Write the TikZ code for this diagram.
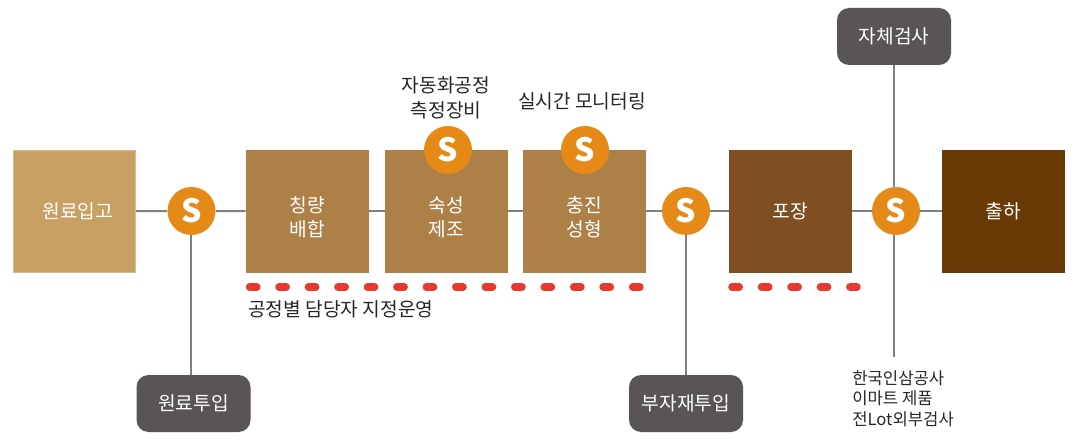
\documentclass[tikz,border=0pt]{standalone}
\usepackage{fontspec}
\setmainfont{Noto Sans CJK KR}
\definecolor{raw}{HTML}{C9A063}
\definecolor{rawedge}{HTML}{D3BC93}
\definecolor{mid}{HTML}{AD8047}
\definecolor{pack}{HTML}{7F4F22}
\definecolor{ship}{HTML}{693A06}
\definecolor{grayed}{HTML}{595556}
\definecolor{badge}{HTML}{E58A17}
\definecolor{reddash}{HTML}{E63A2E}
\definecolor{wire}{HTML}{808080}
\newcommand{\duas}[2]{\rule{0pt}{20pt}#1\\#2}
\tikzset{
  etapa/.style={minimum size=92.25pt, inner sep=0pt, align=center, text=white,
    font=\fontsize{14.4}{18}\selectfont},
  caixa/.style={rounded corners=9pt, fill=grayed, minimum width=85.5pt, minimum height=42.75pt,
    inner sep=0pt, text=white, font=\fontsize{14.4}{18}\selectfont},
  selo/.style={circle, fill=badge, minimum size=36pt, inner sep=0pt, text=white,
    font=\fontsize{24}{24}\selectfont\bfseries},
  rotulo/.style={align=center, text=black!85, inner sep=0pt, font=\fontsize{14.4}{18.75}\selectfont},
  fio/.style={draw=wire, line width=1.5pt},
  tracos/.style={draw=reddash, line width=5.6pt, line cap=round, dash pattern=on 5.5pt off 16.6pt},
}
\begin{document}
\begin{tikzpicture}[x=.75pt,y=-.75pt]
    \useasboundingbox (0,0) rectangle (1078,445);
    \node[etapa, fill=raw, draw=rawedge, line width=1pt, minimum size=91.5pt] (entrada) at (74.5,211.5) {\hspace*{5pt}원료입고};
    \node[etapa, fill=mid] (pesagem) at (307.5,211.5) {\duas{칭량}{배합}};
    \node[etapa, fill=mid] (cura) at (446.5,211.5) {\duas{숙성}{제조}};
    \node[etapa, fill=mid] (enchimento) at (584.5,211.5) {\duas{충진}{성형}};
    \node[etapa, fill=pack] (embalagem) at (790.5,211.5) {포장};
    \node[etapa, fill=ship] (saida) at (1003.5,211.5) {출하};

    \node[selo] (sa) at (191.5,211) {S};
    \node[selo] (sb) at (448,150) {S};
    \node[selo] (sc) at (585,150) {S};
    \node[selo] (sd) at (686,211) {S};
    \node[selo] (se) at (896,211) {S};

    \node[caixa] (insumo) at (193.5,403.5) {원료투입};
    \node[caixa] (material) at (686,403.5) {부자재투입};
    \node[caixa] (inspecao) at (894,36.5) {자체검사};

    \node[rotulo] (autom) at (446,98) {자동화공정\\측정장비};
    \node[rotulo] (monitor) at (582,101) {실시간 모니터링};
    \node[rotulo, anchor=west] (turno) at (248,309) {공정별 담당자 지정운영};
    \node[rotulo, anchor=north west, align=left, font=\fontsize{12.5}{15.4}\selectfont] (externo) at (852,370) {한국인삼공사\\이마트 제품\\전Lot외부검사};

    \coordinate (pe) at (894,357);
    \coordinate (ta) at (249.5,287);
    \coordinate (tb) at (640,287);
    \coordinate (tc) at (732,287);
    \coordinate (td) at (857,287);

    \draw[fio] (entrada) -- (sa);
    \draw[fio] (sa) -- (pesagem);
    \draw[fio] (pesagem) -- (cura);
    \draw[fio] (cura) -- (enchimento);
    \draw[fio] (enchimento.east |- sd) -- (sd);
    \draw[fio] (sd) -- (embalagem.west |- sd);
    \draw[fio] (embalagem.east |- se) -- (se);
    \draw[fio] (se) -- (saida.west |- se);
    \draw[fio] (sa.south -| 191,0) -- (insumo.north -| 191,0);
    \draw[fio] (sd) -- (material);
    \draw[fio] (inspecao) -- (inspecao |- se.north);
    \draw[fio] (pe |- se.south) -- (pe);

    \draw[tracos] (ta) -- (tb);
    \draw[tracos] (tc) -- (td);
\end{tikzpicture}
\end{document}
